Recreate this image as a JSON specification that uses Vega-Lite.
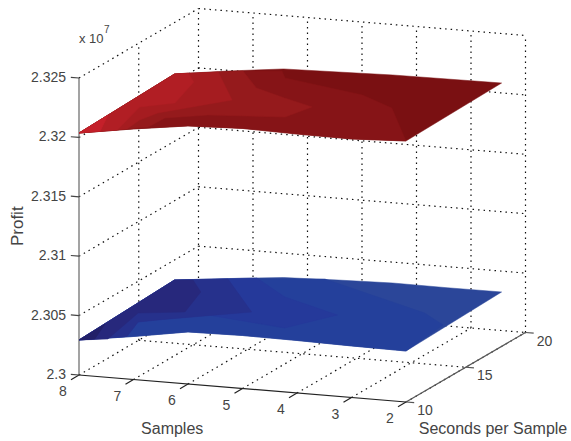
{
"$schema":"https://vega.github.io/schema/vega-lite/v6.json",
"width":571,"height":441,"padding":0,"autosize":"none","background":"white",
"config":{"view":{"stroke":null}},
"datasets":{
"grid":[
{"s1":8,"sec1":10,"p1":2.3,"s2":8,"sec2":20,"p2":2.3},{"s1":7,"sec1":10,"p1":2.3,"s2":7,"sec2":20,"p2":2.3},{"s1":6,"sec1":10,"p1":2.3,"s2":6,"sec2":20,"p2":2.3},{"s1":5,"sec1":10,"p1":2.3,"s2":5,"sec2":20,"p2":2.3},{"s1":4,"sec1":10,"p1":2.3,"s2":4,"sec2":20,"p2":2.3},{"s1":3,"sec1":10,"p1":2.3,"s2":3,"sec2":20,"p2":2.3},{"s1":2,"sec1":10,"p1":2.3,"s2":2,"sec2":20,"p2":2.3},
{"s1":8,"sec1":15,"p1":2.3,"s2":2,"sec2":15,"p2":2.3},{"s1":8,"sec1":20,"p1":2.3,"s2":2,"sec2":20,"p2":2.3},
{"s1":8,"sec1":15,"p1":2.3,"s2":8,"sec2":15,"p2":2.325},{"s1":8,"sec1":20,"p1":2.3,"s2":8,"sec2":20,"p2":2.325},
{"s1":8,"sec1":10,"p1":2.305,"s2":8,"sec2":20,"p2":2.305},{"s1":8,"sec1":10,"p1":2.31,"s2":8,"sec2":20,"p2":2.31},{"s1":8,"sec1":10,"p1":2.315,"s2":8,"sec2":20,"p2":2.315},{"s1":8,"sec1":10,"p1":2.32,"s2":8,"sec2":20,"p2":2.32},{"s1":8,"sec1":10,"p1":2.325,"s2":8,"sec2":20,"p2":2.325},
{"s1":7,"sec1":20,"p1":2.3,"s2":7,"sec2":20,"p2":2.325},{"s1":6,"sec1":20,"p1":2.3,"s2":6,"sec2":20,"p2":2.325},{"s1":5,"sec1":20,"p1":2.3,"s2":5,"sec2":20,"p2":2.325},{"s1":4,"sec1":20,"p1":2.3,"s2":4,"sec2":20,"p2":2.325},{"s1":3,"sec1":20,"p1":2.3,"s2":3,"sec2":20,"p2":2.325},{"s1":2,"sec1":20,"p1":2.3,"s2":2,"sec2":20,"p2":2.325},
{"s1":8,"sec1":20,"p1":2.305,"s2":2,"sec2":20,"p2":2.305},{"s1":8,"sec1":20,"p1":2.31,"s2":2,"sec2":20,"p2":2.31},{"s1":8,"sec1":20,"p1":2.315,"s2":2,"sec2":20,"p2":2.315},{"s1":8,"sec1":20,"p1":2.32,"s2":2,"sec2":20,"p2":2.32},{"s1":8,"sec1":20,"p1":2.325,"s2":2,"sec2":20,"p2":2.325}
],
"axes":[
{"k":"z","s1":8,"sec1":10,"p1":2.3,"s2":8,"sec2":10,"p2":2.325},
{"k":"s","s1":8,"sec1":10,"p1":2.3,"s2":2,"sec2":10,"p2":2.3},
{"k":"t","s1":2,"sec1":10,"p1":2.3,"s2":2,"sec2":20,"p2":2.3},
{"k":"s","s1":8,"sec1":10,"p1":2.3,"s2":8,"sec2":9.33,"p2":2.3},{"k":"s","s1":7,"sec1":10,"p1":2.3,"s2":7,"sec2":9.33,"p2":2.3},{"k":"s","s1":6,"sec1":10,"p1":2.3,"s2":6,"sec2":9.33,"p2":2.3},{"k":"s","s1":5,"sec1":10,"p1":2.3,"s2":5,"sec2":9.33,"p2":2.3},{"k":"s","s1":4,"sec1":10,"p1":2.3,"s2":4,"sec2":9.33,"p2":2.3},{"k":"s","s1":3,"sec1":10,"p1":2.3,"s2":3,"sec2":9.33,"p2":2.3},{"k":"s","s1":2,"sec1":10,"p1":2.3,"s2":2,"sec2":9.33,"p2":2.3},
{"k":"t","s1":2,"sec1":10,"p1":2.3,"s2":1.85,"sec2":10,"p2":2.3},{"k":"t","s1":2,"sec1":15,"p1":2.3,"s2":1.85,"sec2":15,"p2":2.3},{"k":"t","s1":2,"sec1":20,"p1":2.3,"s2":1.85,"sec2":20,"p2":2.3},
{"k":"y","s1":8,"sec1":10,"p1":2.3,"s2":8.15,"sec2":10,"p2":2.3},{"k":"y","s1":8,"sec1":10,"p1":2.305,"s2":8.15,"sec2":10,"p2":2.305},{"k":"y","s1":8,"sec1":10,"p1":2.31,"s2":8.15,"sec2":10,"p2":2.31},{"k":"y","s1":8,"sec1":10,"p1":2.315,"s2":8.15,"sec2":10,"p2":2.315},{"k":"y","s1":8,"sec1":10,"p1":2.32,"s2":8.15,"sec2":10,"p2":2.32},{"k":"y","s1":8,"sec1":10,"p1":2.325,"s2":8.15,"sec2":10,"p2":2.325}
],
"bands":[
{"band":"b0","s":[8,7,6,5,4,3,2,2,3,4,5,6,7,8],"sec":[10,10,10,10,10,10,10,18,18,18,18,18,18,18],"profit":[2.30295,2.30362,2.30438,2.30446,2.30442,2.30434,2.30429,2.30458,2.30456,2.30458,2.30445,2.30428,2.30382,2.30332]},
{"band":"b1","s":[8,7,6,5,4,3,2,2,2.73,3.99,5.24,8],"sec":[10,10,10,10,10,10,10,13.1,14.89,16.71,18,18],"profit":[2.30295,2.30362,2.30438,2.30446,2.30442,2.30434,2.30429,2.30467,2.30435,2.30416,2.30444,2.30332]},
{"band":"b2","s":[8,7.12,7.47,7.18,6.45,4.75,4.19,5.61,6.49,8],"sec":[10,10,12.53,12.87,13.71,12.39,14.26,16.32,18,18],"profit":[2.30295,2.30358,2.30318,2.30327,2.30347,2.30379,2.304,2.30378,2.30406,2.30332]},
{"band":"b3","s":[8,7.12,7.47,7.18,5.77,7.02,8],"sec":[10,10,12.53,12.87,14.28,18,18],"profit":[2.30295,2.30358,2.30318,2.30327,2.30364,2.30377,2.30332]},
{"band":"b4","s":[8,7.47,7.72,6.93,7.21,7.66,8],"sec":[10,10,13.67,13.99,16.59,18,18],"profit":[2.30295,2.30323,2.30317,2.30338,2.30343,2.30344,2.30332]},
{"band":"b5","s":[8,7.71,8],"sec":[10,10,12.18],"profit":[2.30295,2.30314,2.30301]},
{"band":"r0","s":[8,7,6,5,4,3,2,2,3,4,5,6,7,8],"sec":[10,10,10,10,10,10,10,18,18,18,18,18,18,18],"profit":[2.32037,2.32109,2.32172,2.32189,2.3218,2.32176,2.32197,2.32217,2.32213,2.32209,2.32196,2.32184,2.32129,2.32066]},
{"band":"r1","s":[8,7,6,5,4,3,2,3.19,4.08,5.93,6.03,6.58,8],"sec":[10,10,10,10,10,10,10,14.24,15.84,17.8,18,18,18],"profit":[2.32037,2.32109,2.32172,2.32189,2.3218,2.32176,2.32197,2.32181,2.32163,2.32122,2.32166,2.32145,2.32066]},
{"band":"r2","s":[8,6.73,6.91,6.24,4.82,4.63,5.37,6.15,6.745,8],"sec":[10,10,12.22,12.75,12.73,14.12,15.2,16.41,18,18],"profit":[2.32037,2.32135,2.32075,2.32094,2.32132,2.32143,2.32127,2.32111,2.32138,2.32066]},
{"band":"r3","s":[8,7.12,7.3,7.18,6.24,7.2,8],"sec":[10,10,11.88,12.85,14.78,18,18],"profit":[2.32037,2.32105,2.32063,2.3207,2.32102,2.32113,2.32066]},
{"band":"r4","s":[8,7.3,7.67,7.16,7.43,7.75,8],"sec":[10,10,13.57,14.2,17,18,18],"profit":[2.32037,2.32088,2.3206,2.32076,2.32078,2.32083,2.32066]},
{"band":"r5","s":[8,7.61,8],"sec":[10,10,12.43],"profit":[2.32037,2.32068,2.32046]}
]
},
"layer":[
{"data":{"name":"grid"},
"transform":[
{"calculate":"79+(8-datum.s1)*54.5+(datum.sec1-10)*11.95","as":"x1"},
{"calculate":"375+(8-datum.s1)*4.5-(datum.sec1-10)*6.95-(datum.p1-2.3)*11880","as":"y1"},
{"calculate":"79+(8-datum.s2)*54.5+(datum.sec2-10)*11.95","as":"x2"},
{"calculate":"375+(8-datum.s2)*4.5-(datum.sec2-10)*6.95-(datum.p2-2.3)*11880","as":"y2"}],
"mark":{"type":"rule","color":"#111111","strokeWidth":1.2,"strokeDash":[1.5,4]},
"encoding":{
"x":{"field":"x1","type":"quantitative","scale":{"domain":[0,571],"nice":false,"zero":false},"axis":null},
"y":{"field":"y1","type":"quantitative","scale":{"domain":[0,441],"nice":false,"zero":false,"reverse":true},"axis":null},
"x2":{"field":"x2"},"y2":{"field":"y2"}}},
{"data":{"name":"axes"},
"transform":[
{"calculate":"79+(8-datum.s1)*54.5+(datum.sec1-10)*11.95","as":"x1"},
{"calculate":"375+(8-datum.s1)*4.5-(datum.sec1-10)*6.95-(datum.p1-2.3)*11880","as":"y1"},
{"calculate":"79+(8-datum.s2)*54.5+(datum.sec2-10)*11.95","as":"x2"},
{"calculate":"375+(8-datum.s2)*4.5-(datum.sec2-10)*6.95-(datum.p2-2.3)*11880","as":"y2"}],
"mark":{"type":"rule","strokeWidth":1.2},
"encoding":{
"x":{"field":"x1","type":"quantitative","scale":{"domain":[0,571],"nice":false,"zero":false},"axis":null},
"y":{"field":"y1","type":"quantitative","scale":{"domain":[0,441],"nice":false,"zero":false,"reverse":true},"axis":null},
"x2":{"field":"x2"},"y2":{"field":"y2"},
"color":{"field":"k","type":"nominal","legend":null,"scale":{"domain":["z","s","t","y"],"range":["#666666","#222222","#555555","#444444"]}}}},
{"data":{"name":"bands"},
"transform":[
{"flatten":["s","sec","profit"]},
{"calculate":"79+(8-datum.s)*54.5+(datum.sec-10)*11.95","as":"px"},
{"calculate":"375+(8-datum.s)*4.5-(datum.sec-10)*6.95-(datum.profit-2.3)*11880","as":"py"}],
"mark":{"type":"line","strokeWidth":0.5,"interpolate":"linear-closed"},
"encoding":{
"x":{"field":"px","type":"quantitative","scale":{"domain":[0,571],"nice":false,"zero":false},"axis":null},
"y":{"field":"py","type":"quantitative","scale":{"domain":[0,441],"nice":false,"zero":false,"reverse":true},"axis":null},
"order":{"value":null},
"detail":{"field":"band"},
"stroke":{"field":"band","type":"nominal","legend":null,"sort":null,"scale":{"domain":["b0","b1","b2","b3","b4","b5","r0","r1","r2","r3","r4","r5"],"range":["#2b4699","#24409b","#25399a","#26318c","#27287c","#222068","#7a1012","#861417","#951a1c","#a51c20","#b11e24","#c4202a"]}},
"fill":{"field":"band","type":"nominal","legend":null,"sort":null,"scale":{"domain":["b0","b1","b2","b3","b4","b5","r0","r1","r2","r3","r4","r5"],"range":["#2b4699","#24409b","#25399a","#26318c","#27287c","#222068","#7a1012","#861417","#951a1c","#a51c20","#b11e24","#c4202a"]}}}},
{"data":{"values":[{"s":8,"sec":10,"profit":2.3,"label":"8"},{"s":7,"sec":10,"profit":2.3,"label":"7"},{"s":6,"sec":10,"profit":2.3,"label":"6"},{"s":5,"sec":10,"profit":2.3,"label":"5"},{"s":4,"sec":10,"profit":2.3,"label":"4"},{"s":3,"sec":10,"profit":2.3,"label":"3"},{"s":2,"sec":10,"profit":2.3,"label":"2"}]},
"transform":[{"calculate":"79+(8-datum.s)*54.5+(datum.sec-10)*11.95","as":"px"},{"calculate":"375+(8-datum.s)*4.5-(datum.sec-10)*6.95-(datum.profit-2.3)*11880","as":"py"}],
"mark":{"type":"text","font":"Liberation Sans","fontSize":14,"color":"#444444","align":"center","baseline":"middle","dx":-16,"dy":17},
"encoding":{"x":{"field":"px","type":"quantitative","scale":{"domain":[0,571],"nice":false,"zero":false},"axis":null},"y":{"field":"py","type":"quantitative","scale":{"domain":[0,441],"nice":false,"zero":false,"reverse":true},"axis":null},"text":{"field":"label"}}},
{"data":{"values":[{"s":2,"sec":10,"profit":2.3,"label":"10"},{"s":2,"sec":15,"profit":2.3,"label":"15"},{"s":2,"sec":20,"profit":2.3,"label":"20"}]},
"transform":[{"calculate":"79+(8-datum.s)*54.5+(datum.sec-10)*11.95","as":"px"},{"calculate":"375+(8-datum.s)*4.5-(datum.sec-10)*6.95-(datum.profit-2.3)*11880","as":"py"}],
"mark":{"type":"text","font":"Liberation Sans","fontSize":14,"color":"#444444","align":"center","baseline":"middle","dx":19,"dy":9},
"encoding":{"x":{"field":"px","type":"quantitative","scale":{"domain":[0,571],"nice":false,"zero":false},"axis":null},"y":{"field":"py","type":"quantitative","scale":{"domain":[0,441],"nice":false,"zero":false,"reverse":true},"axis":null},"text":{"field":"label"}}},
{"data":{"values":[{"s":8,"sec":10,"profit":2.3,"label":"2.3"},{"s":8,"sec":10,"profit":2.305,"label":"2.305"},{"s":8,"sec":10,"profit":2.31,"label":"2.31"},{"s":8,"sec":10,"profit":2.315,"label":"2.315"},{"s":8,"sec":10,"profit":2.32,"label":"2.32"},{"s":8,"sec":10,"profit":2.325,"label":"2.325"}]},
"transform":[{"calculate":"79+(8-datum.s)*54.5+(datum.sec-10)*11.95","as":"px"},{"calculate":"375+(8-datum.s)*4.5-(datum.sec-10)*6.95-(datum.profit-2.3)*11880","as":"py"}],
"mark":{"type":"text","font":"Liberation Sans","fontSize":14,"color":"#444444","align":"right","baseline":"middle","dx":-13},
"encoding":{"x":{"field":"px","type":"quantitative","scale":{"domain":[0,571],"nice":false,"zero":false},"axis":null},"y":{"field":"py","type":"quantitative","scale":{"domain":[0,441],"nice":false,"zero":false,"reverse":true},"axis":null},"text":{"field":"label"}}},
{"data":{"values":[{"s":6.29,"sec":10,"profit":2.2961,"label":"Samples"},{"s":0.404,"sec":10,"profit":2.2983,"label":"Seconds per Sample"}]},
"transform":[{"calculate":"79+(8-datum.s)*54.5+(datum.sec-10)*11.95","as":"px"},{"calculate":"375+(8-datum.s)*4.5-(datum.sec-10)*6.95-(datum.profit-2.3)*11880","as":"py"}],
"mark":{"type":"text","font":"Liberation Sans","fontSize":16,"color":"#444444","align":"center","baseline":"middle"},
"encoding":{"x":{"field":"px","type":"quantitative","scale":{"domain":[0,571],"nice":false,"zero":false},"axis":null},"y":{"field":"py","type":"quantitative","scale":{"domain":[0,441],"nice":false,"zero":false,"reverse":true},"axis":null},"text":{"field":"label"}}},
{"data":{"values":[{"s":9.12,"sec":10,"profit":2.3121,"label":"Profit"}]},
"transform":[{"calculate":"79+(8-datum.s)*54.5+(datum.sec-10)*11.95","as":"px"},{"calculate":"375+(8-datum.s)*4.5-(datum.sec-10)*6.95-(datum.profit-2.3)*11880","as":"py"}],
"mark":{"type":"text","font":"Liberation Sans","fontSize":17,"color":"#444444","align":"center","baseline":"middle","angle":270},
"encoding":{"x":{"field":"px","type":"quantitative","scale":{"domain":[0,571],"nice":false,"zero":false},"axis":null},"y":{"field":"py","type":"quantitative","scale":{"domain":[0,441],"nice":false,"zero":false,"reverse":true},"axis":null},"text":{"field":"label"}}},
{"data":{"values":[{"s":8,"sec":10,"profit":2.32828,"label":"x 10"}]},
"transform":[{"calculate":"79+(8-datum.s)*54.5+(datum.sec-10)*11.95","as":"px"},{"calculate":"375+(8-datum.s)*4.5-(datum.sec-10)*6.95-(datum.profit-2.3)*11880","as":"py"}],
"mark":{"type":"text","font":"Liberation Sans","fontSize":13,"color":"#444444","align":"left","baseline":"middle"},
"encoding":{"x":{"field":"px","type":"quantitative","scale":{"domain":[0,571],"nice":false,"zero":false},"axis":null},"y":{"field":"py","type":"quantitative","scale":{"domain":[0,441],"nice":false,"zero":false,"reverse":true},"axis":null},"text":{"field":"label"}}},
{"data":{"values":[{"s":8,"sec":10,"profit":2.32828,"label":"7"}]},
"transform":[{"calculate":"79+(8-datum.s)*54.5+(datum.sec-10)*11.95","as":"px"},{"calculate":"375+(8-datum.s)*4.5-(datum.sec-10)*6.95-(datum.profit-2.3)*11880","as":"py"}],
"mark":{"type":"text","font":"Liberation Sans","fontSize":10,"color":"#444444","align":"left","baseline":"middle","dx":25,"dy":-9},
"encoding":{"x":{"field":"px","type":"quantitative","scale":{"domain":[0,571],"nice":false,"zero":false},"axis":null},"y":{"field":"py","type":"quantitative","scale":{"domain":[0,441],"nice":false,"zero":false,"reverse":true},"axis":null},"text":{"field":"label"}}}
]
}
